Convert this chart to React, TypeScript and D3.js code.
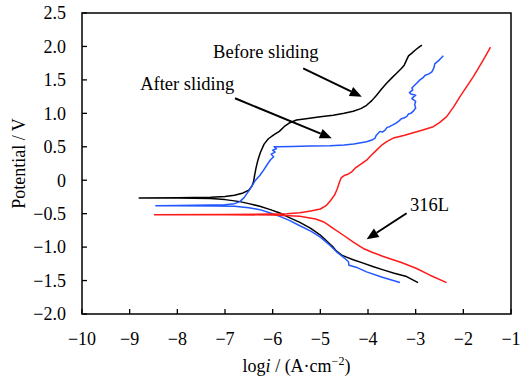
import React from "react";
import * as d3 from "d3";

// ---- data: [log i (A/cm2), potential (V)] in scan order ----
const beforeSliding: [number, number][] = [
  [-2.95, -1.53], [-3.19, -1.44], [-3.45, -1.39], [-3.68, -1.34], [-3.9, -1.29], [-4.1, -1.24],
  [-4.31, -1.19], [-4.45, -1.15], [-4.55, -1.12], [-4.66, -1.06], [-4.73, -1.0], [-4.85, -0.92],
  [-5.0, -0.82], [-5.2, -0.72], [-5.43, -0.63], [-5.65, -0.56], [-5.85, -0.49], [-6.05, -0.44],
  [-6.27, -0.39], [-6.5, -0.35], [-6.69, -0.32], [-7.0, -0.29], [-7.3, -0.275], [-8.0, -0.265],
  [-8.8, -0.265], [-8.0, -0.262], [-7.3, -0.255], [-7.0, -0.245], [-6.8, -0.225], [-6.62, -0.19],
  [-6.5, -0.15], [-6.43, -0.08], [-6.4, -0.02], [-6.38, 0.07], [-6.35, 0.18], [-6.31, 0.3],
  [-6.26, 0.41], [-6.18, 0.54], [-6.09, 0.62], [-5.97, 0.68], [-5.86, 0.73], [-5.76, 0.8],
  [-5.64, 0.86], [-5.5, 0.9], [-5.3, 0.92], [-5.0, 0.95], [-4.73, 0.97], [-4.5, 1.0],
  [-4.31, 1.03], [-4.15, 1.07], [-4.03, 1.12], [-3.92, 1.19], [-3.82, 1.27], [-3.72, 1.36],
  [-3.61, 1.45], [-3.5, 1.53], [-3.4, 1.6], [-3.3, 1.67], [-3.24, 1.72], [-3.19, 1.8],
  [-3.15, 1.86], [-3.08, 1.9], [-3.0, 1.95], [-2.93, 1.99], [-2.87, 2.02],
];

const afterSliding: [number, number][] = [
  [-3.33, -1.53], [-3.7, -1.45], [-4.03, -1.37], [-4.25, -1.3], [-4.4, -1.27], [-4.41, -1.22],
  [-4.5, -1.16], [-4.66, -1.07], [-4.8, -0.97], [-5.0, -0.85], [-5.2, -0.76], [-5.43, -0.68],
  [-5.65, -0.6], [-5.85, -0.54], [-6.05, -0.49], [-6.27, -0.44], [-6.5, -0.41], [-6.8, -0.39],
  [-7.2, -0.385], [-8.0, -0.38], [-8.45, -0.38], [-8.0, -0.378], [-7.3, -0.372], [-7.0, -0.365],
  [-6.8, -0.35], [-6.69, -0.32], [-6.6, -0.26], [-6.5, -0.16], [-6.43, -0.08], [-6.36, 0.0],
  [-6.27, 0.07], [-6.19, 0.15], [-6.1, 0.25], [-6.04, 0.31], [-5.98, 0.35], [-6.03, 0.39],
  [-5.95, 0.42], [-6.0, 0.45], [-5.92, 0.47], [-5.97, 0.5], [-5.88, 0.5], [-5.6, 0.505],
  [-5.2, 0.51], [-4.8, 0.515], [-4.5, 0.525], [-4.3, 0.54], [-4.15, 0.56], [-4.03, 0.576],
  [-3.92, 0.6], [-3.85, 0.63], [-3.83, 0.67], [-3.79, 0.7], [-3.75, 0.73], [-3.7, 0.72],
  [-3.64, 0.75], [-3.6, 0.79], [-3.55, 0.8], [-3.47, 0.83], [-3.42, 0.85], [-3.36, 0.88],
  [-3.3, 0.92], [-3.25, 0.93], [-3.19, 0.95], [-3.15, 0.99], [-3.1, 1.0], [-3.04, 1.04],
  [-3.0, 1.08], [-3.02, 1.13], [-3.0, 1.18], [-3.08, 1.22], [-3.04, 1.25], [-3.0, 1.27],
  [-3.1, 1.29], [-3.13, 1.31], [-3.06, 1.35], [-3.08, 1.38], [-2.98, 1.45], [-2.91, 1.5],
  [-2.85, 1.53], [-2.8, 1.57], [-2.72, 1.59], [-2.66, 1.62], [-2.63, 1.66], [-2.61, 1.7],
  [-2.6, 1.74], [-2.55, 1.77], [-2.5, 1.8], [-2.46, 1.83], [-2.42, 1.86],
];

const steel316L: [number, number][] = [
  [-2.35, -1.53], [-2.7, -1.42], [-2.98, -1.32], [-3.3, -1.23], [-3.68, -1.14], [-3.9, -1.08],
  [-4.1, -1.02], [-4.3, -0.93], [-4.5, -0.83], [-4.73, -0.72], [-4.85, -0.66], [-4.94, -0.62],
  [-5.1, -0.58], [-5.43, -0.54], [-6.0, -0.52], [-7.0, -0.515], [-8.48, -0.515], [-7.0, -0.512],
  [-6.0, -0.505], [-5.7, -0.5], [-5.43, -0.485], [-5.2, -0.46], [-5.0, -0.43], [-4.88, -0.38],
  [-4.78, -0.3], [-4.7, -0.22], [-4.64, -0.12], [-4.6, -0.03], [-4.56, 0.04], [-4.5, 0.07],
  [-4.42, 0.09], [-4.35, 0.12], [-4.27, 0.18], [-4.15, 0.24], [-4.03, 0.3], [-3.92, 0.38],
  [-3.82, 0.45], [-3.72, 0.52], [-3.6, 0.58], [-3.47, 0.63], [-3.25, 0.67], [-3.05, 0.71],
  [-2.85, 0.75], [-2.63, 0.8], [-2.5, 0.86], [-2.35, 0.95], [-2.2, 1.1], [-2.07, 1.25],
  [-1.93, 1.4], [-1.79, 1.55], [-1.68, 1.68], [-1.58, 1.8], [-1.5, 1.9], [-1.43, 1.99],
];

const xTicks = [-10, -9, -8, -7, -6, -5, -4, -3, -2, -1];
const xTickLabels = ["−10", "−9", "−8", "−7", "−6", "−5", "−4", "−3", "−2", "−1"];
const yTicks = [2.5, 2.0, 1.5, 1.0, 0.5, 0, -0.5, -1.0, -1.5, -2.0];
const yTickLabels = ["2.5", "2.0", "1.5", "1.0", "0.5", "0", "−0.5", "−1.0", "−1.5", "−2.0"];

// annotation labels and arrows (data coordinates)
const annotationLabels = ["Before sliding", "After sliding", "316L"];
const annotationTextAt: [number, number][] = [[-7.25, 1.82], [-8.78, 1.35], [-3.12, -0.46]];
const arrowFrom: [number, number][] = [[-5.36, 1.673], [-6.79, 1.225], [-3.19, -0.494]];
const arrowTo: [number, number][] = [[-4.13, 1.249], [-4.76, 0.627], [-4.03, -0.883]];

const seriesList = [beforeSliding, afterSliding, steel316L];
const seriesColors = ["#000000", "#2357ff", "#ff1a1a"];

const W = 528;
const H = 382;
const M = { left: 82, right: 511, top: 13, bottom: 314 };
const FONT = "'Liberation Serif', 'Times New Roman', serif";

export default function App() {
  const x = d3.scaleLinear().domain([-10, -1]).range([M.left, M.right]);
  const y = d3.scaleLinear().domain([-2, 2.5]).range([M.bottom, M.top]);
  const line = d3
    .line<[number, number]>()
    .x((d) => x(d[0]))
    .y((d) => y(d[1]))
    .curve(d3.curveLinear);

  const arrows = arrowFrom.map((f, i) => {
    const x1 = x(f[0]);
    const y1 = y(f[1]);
    const x2 = x(arrowTo[i][0]);
    const y2 = y(arrowTo[i][1]);
    const ang = Math.atan2(y2 - y1, x2 - x1);
    const len = 12;
    const hw = 5;
    const bx = x2 - len * Math.cos(ang);
    const by = y2 - len * Math.sin(ang);
    const px = -Math.sin(ang) * hw;
    const py = Math.cos(ang) * hw;
    return { x1, y1, bx, by, x2, y2, px, py };
  });

  return (
    <svg
      width={W}
      height={H}
      style={{ position: "absolute", left: 0, top: 0, background: "#fff" }}
      fontFamily={FONT}
    >
      <rect x={0} y={0} width={W} height={H} fill="#fff" />
      {/* plot frame */}
      <rect
        x={M.left}
        y={M.top}
        width={M.right - M.left}
        height={M.bottom - M.top}
        fill="none"
        stroke="#000"
        strokeWidth={1.5}
      />
      {/* y ticks */}
      {yTicks.map((t, i) => (
        <g key={"y" + i}>
          <line x1={M.left} x2={M.left + 5} y1={y(t)} y2={y(t)} stroke="#000" strokeWidth={1.3} />
          <text x={66} y={y(t)} dy="0.35em" textAnchor="end" fontSize={18} fill="#000">
            {yTickLabels[i]}
          </text>
        </g>
      ))}
      {/* x ticks */}
      {xTicks.map((t, i) => (
        <g key={"x" + i}>
          <line x1={x(t)} x2={x(t)} y1={M.bottom} y2={M.bottom - 5} stroke="#000" strokeWidth={1.3} />
          <text x={x(t)} y={345} textAnchor="middle" fontSize={18} fill="#000">
            {xTickLabels[i]}
          </text>
        </g>
      ))}
      {/* axis titles */}
      <text x={(M.left + M.right) / 2} y={372} textAnchor="middle" fontSize={18} fill="#000">
        log<tspan fontStyle="italic">i</tspan> / (A·cm
        <tspan dy={-7} fontSize={12}>−2</tspan>
        <tspan dy={7}>)</tspan>
      </text>
      <text
        transform={`translate(24.5,${(M.top + M.bottom) / 2}) rotate(-90)`}
        textAnchor="middle"
        fontSize={18}
        fill="#000"
      >
        Potential / V
      </text>
      {/* curves */}
      {seriesList.map((s, i) => (
        <path
          key={"s" + i}
          d={line(s) || ""}
          fill="none"
          stroke={seriesColors[i]}
          strokeWidth={1.5}
          strokeLinejoin="round"
        />
      ))}
      {/* annotations */}
      {annotationLabels.map((lab, i) => (
        <text
          key={"a" + i}
          x={x(annotationTextAt[i][0])}
          y={y(annotationTextAt[i][1])}
          fontSize={18.5}
          fill="#000"
        >
          {lab}
        </text>
      ))}
      {arrows.map((a, i) => (
        <g key={"ar" + i}>
          <line x1={a.x1} y1={a.y1} x2={a.bx} y2={a.by} stroke="#000" strokeWidth={2} />
          <polygon
            points={`${a.x2},${a.y2} ${a.bx + a.px},${a.by + a.py} ${a.bx - a.px},${a.by - a.py}`}
            fill="#000"
          />
        </g>
      ))}
    </svg>
  );
}
